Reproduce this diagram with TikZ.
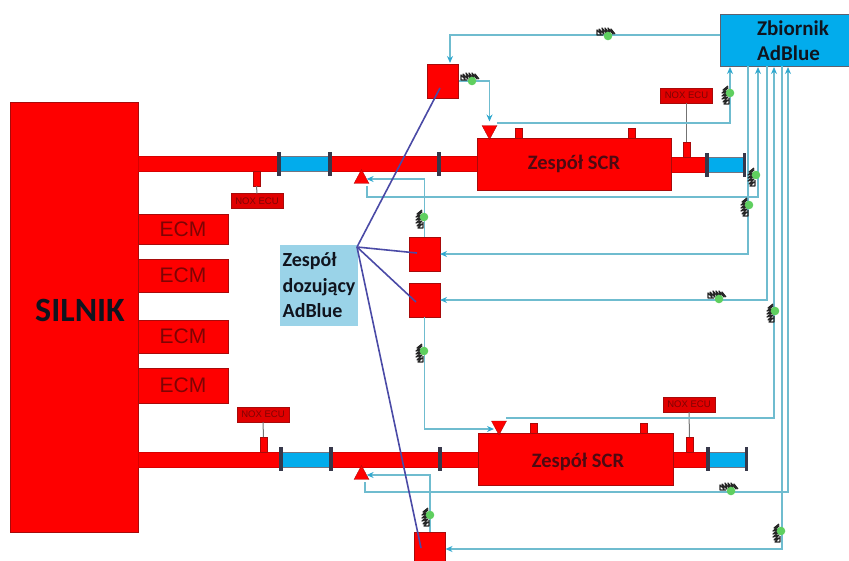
\documentclass[tikz,border=0pt]{standalone}
\usepackage{fontspec}
\setmainfont{Carlito}
\newfontfamily\ecmfont{Liberation Sans}
\usetikzlibrary{arrows.meta,shapes.geometric}
\definecolor{pipered}{HTML}{FE0000}
\definecolor{edgered}{HTML}{A80A0A}
\definecolor{inkred}{HTML}{7E0404}
\definecolor{inkscr}{HTML}{4E0A12}
\definecolor{tankblue}{HTML}{02ACEC}
\definecolor{labelblue}{HTML}{9AD3E8}
\definecolor{feedline}{HTML}{6FBCCF}
\definecolor{feedtip}{HTML}{2FA8CF}
\definecolor{wireviolet}{HTML}{4A4AA6}
\definecolor{flangedark}{HTML}{37384A}
\definecolor{valvegreen}{HTML}{5FCF5F}
\definecolor{inkdark}{HTML}{10141E}

\begin{document}
\begin{tikzpicture}[
  x=1pt,
  y=-1pt,
  redbox/.style={draw=edgered, fill=pipered, line width=0.7pt, inner sep=0pt, outer sep=0pt},
  pipe/.style={fill=pipered, draw=pipered!85!black, line width=0.4pt, inner sep=0pt, outer sep=0pt, minimum height=15},
  bluepipe/.style={fill=tankblue, draw=flangedark!70, line width=0.4pt, inner sep=0pt, outer sep=0pt, minimum height=15},
  flange/.style={fill=flangedark, inner sep=0pt, outer sep=0pt, minimum width=4, minimum height=24},
  nub/.style={redbox, minimum width=7},
  ecm/.style={redbox, minimum width=90, text=inkred, font=\ecmfont\fontsize{21}{21}\selectfont},
  noxbox/.style={redbox, fill=pipered!88!black, minimum width=52, minimum height=15, text=inkred,
                 font=\ecmfont\fontsize{9.5}{9.5}\selectfont},
  dosebox/.style={redbox, minimum width=31, minimum height=34},
  injector/.style={isosceles triangle, isosceles triangle stretches, draw=edgered, fill=pipered,
                   line width=0.3pt, inner sep=0pt, outer sep=0pt, minimum width=15, minimum height=14},
  sensor/.style={draw=black!55, line width=1pt},
  feed/.style={feedline, line width=1.3pt},
  feedin/.style={feed, -{Stealth[length=7pt, width=6pt, color=feedtip]}},
  wire/.style={wireviolet, line width=1.6pt},
  scrtext/.style={text=inkscr, font=\bfseries\fontsize{20.5}{20.5}\selectfont},
  valve/.pic={
    \draw[black!85, line width=1.2pt, line join=round] (-5,-1) -- (-11,-1) -- (-11,-6) -- (-7,-2) -- (-9,-7)
      -- (-4,-2) -- (-6,-8) -- (-1,-2) -- (-3,-8) -- (2,-2) -- (0,-8) -- (5,-2) -- (3,-7) -- (7,-2);
    \fill[valvegreen] (0,0) circle (4.3);
  }
]
  \useasboundingbox (0,0) rectangle (849,560);
  \clip (0,0) rectangle (849,560);

  % ---- engine and control units ----
  \node[redbox, minimum width=128, minimum height=430] (silnik) at (74,317) {};
  \node[text=inkdark, font=\bfseries\fontsize{34}{34}\selectfont] (silniktext) at (80,310) {SILNIK};
  \node[ecm, minimum height=30] (ecm1) at (183,229) {ECM};
  \node[ecm, minimum height=33] (ecm2) at (183,275.5) {ECM};
  \node[ecm, minimum height=33] (ecm3) at (183,336.5) {ECM};
  \node[ecm, minimum height=35] (ecm4) at (183,385.5) {ECM};

  % ---- upper exhaust line ----
  \node[pipe, minimum width=142] (pipeA) at (209,164) {};
  \node[bluepipe, minimum width=50] (blueA) at (305,164) {};
  \node[pipe, minimum width=148] (pipeB) at (405,164) {};
  \node[flange] (flangeA) at (279,164) {};
  \node[flange] (flangeB) at (330,164) {};
  \node[flange] (flangeC) at (438.5,164) {};
  \node[pipe, minimum width=36] (pipeC) at (689,164.5) {};
  \node[bluepipe, minimum width=37] (blueB) at (726,164.5) {};
  \node[flange] (flangeD) at (707,165) {};
  \node[flange, minimum width=3] (flangeE) at (744.5,165) {};
  \node[redbox, minimum width=194, minimum height=52, scrtext] (scrA) at (574,164) {Zespół SCR};
  \node[nub, minimum height=10] (nubA) at (518.5,133) {};
  \node[nub, minimum height=10] (nubB) at (631.5,133) {};
  \node[nub, minimum height=15] (nubC) at (686.5,149.5) {};
  \node[nub, minimum height=15] (nubD) at (256.5,178.5) {};
  \node[noxbox] (noxA) at (686.5,95.5) {NOX ECU};
  \node[noxbox] (noxB) at (257,201) {NOX ECU};
  \draw[sensor] (noxA) -- (nubC);
  \draw[sensor] (noxB) -- (nubD);

  % ---- lower exhaust line ----
  \node[pipe, minimum width=143] (pipeD) at (209.5,459.5) {};
  \node[bluepipe, minimum width=50] (blueC) at (306,459.5) {};
  \node[pipe, minimum width=147] (pipeE) at (405.5,459.5) {};
  \node[flange] (flangeF) at (281,459) {};
  \node[flange] (flangeG) at (331,459) {};
  \node[flange] (flangeH) at (440,459) {};
  \node[pipe, minimum width=36] (pipeF) at (691,459.5) {};
  \node[bluepipe, minimum width=37] (blueD) at (728,459.5) {};
  \node[flange] (flangeI) at (708,459) {};
  \node[flange, minimum width=3] (flangeJ) at (746,459) {};
  \node[redbox, minimum width=195, minimum height=52] (scrB) at (575.5,459) {};
  \node[scrtext] (scrtextB) at (578,462) {Zespół SCR};
  \node[nub, minimum height=10] (nubE) at (534,428) {};
  \node[nub, minimum height=10] (nubF) at (644,428) {};
  \node[nub, minimum height=15] (nubG) at (689.5,444.5) {};
  \node[nub, minimum height=15] (nubH) at (263.5,444.5) {};
  \node[noxbox] (noxC) at (689,404.5) {NOX ECU};
  \node[noxbox] (noxD) at (263,414.5) {NOX ECU};
  \draw[sensor] (noxC) -- (nubG);
  \draw[sensor] (noxD) -- (nubH);

  % ---- tank, dosing units and label ----
  \node[draw=flangedark!80, fill=tankblue, line width=0.8pt, minimum width=132, minimum height=52,
        inner sep=0pt] (tank) at (786,40) {};
  \node[align=left, inner sep=0pt, text=inkdark, font=\bfseries\fontsize{21}{25}\selectfont]
    (tanktext) at (793,40.5) {Zbiornik\\AdBlue};
  \node[dosebox] (dose1) at (443,81) {};
  \node[dosebox] (dose2) at (424.5,254) {};
  \node[dosebox] (dose3) at (424.5,300) {};
  \node[dosebox] (dose4) at (430,549) {};
  \node[fill=labelblue, minimum width=78, minimum height=81, inner sep=0pt, outer sep=0pt, align=left,
        text=inkdark, font=\bfseries\fontsize{20}{25.5}\selectfont]
    (label) at (319,285.5) {Zespół\\dozujący\\AdBlue};

  % ---- injectors ----
  \node[injector, shape border rotate=-90] (injA) at (489.5,130) {};
  \node[injector, shape border rotate=-90] (injB) at (499,425.5) {};
  \node[injector, shape border rotate=90] (injC) at (361.5,179) {};
  \node[injector, shape border rotate=90] (injD) at (361.5,475) {};

  % ---- reagent lines ----
  \coordinate (tankW) at (720,35);
  \coordinate (doseAin) at (450,63);
  \coordinate (injAout) at (497,123);
  \coordinate (injBout) at (506,418);
  \coordinate (injBin) at (494,429);
  \coordinate (injCout) at (367,186);
  \coordinate (injDout) at (365,482);
  \coordinate (portA) at (730,67);
  \coordinate (portB) at (748,66);
  \coordinate (portC) at (758,67);
  \coordinate (portD) at (767,66);
  \coordinate (portE) at (774,67);
  \coordinate (portF) at (782,66);
  \coordinate (portG) at (788,67);
  \draw[feedin] (tankW) -| (doseAin);
  \draw[feedin, shorten >=4pt] (dose1.east) -| (injA);
  \draw[feedin] (injAout) -| (portA);
  \draw[feedin] (portB) |- (dose2);
  \draw[feedin] (injCout) |- (758,197) -- (portC);
  \draw[feedin] (dose2.north) |- (injC);
  \draw[feedin] (portD) |- (dose3);
  \draw[feedin] (injBout) -| (portE);
  \draw[feedin] (dose3.south) |- (injBin);
  \draw[feedin] (portF) |- (dose4);
  \draw[feedin] (injDout) |- (788,492) -- (portG);
  \draw[feedin] (dose4.north) |- (injD);

  % ---- control wires ----
  \coordinate (hub) at (357,247);
  \coordinate (wireA) at (440,88);
  \coordinate (wireB) at (417,253);
  \coordinate (wireC) at (416,302);
  \coordinate (wireD) at (421,548);
  \draw[wire] (hub) -- (wireA);
  \draw[wire] (hub) -- (wireB);
  \draw[wire] (hub) -- (wireC);
  \draw[wire] (hub) -- (wireD);

  % ---- valves on the lines ----
  \foreach \x/\y in {608/36, 472/81, 719/299, 731/491}
    \pic at (\x,\y) {valve};
  \foreach \x/\y in {730/93, 756/175, 749/205, 424/217, 775/311, 424/351, 781/531, 430/515}
    \pic[rotate=90] at (\x,\y) {valve};
\end{tikzpicture}
\end{document}
